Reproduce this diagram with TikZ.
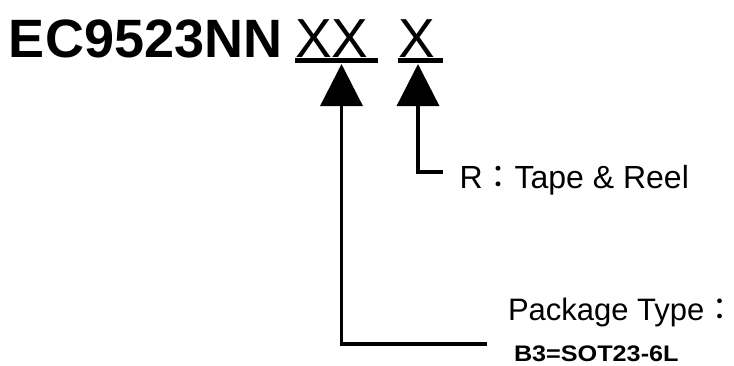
\documentclass[tikz,border=0pt]{standalone}
\usepackage{fontspec}
\setmainfont{Liberation Sans}
\newfontfamily\cjk{Noto Sans CJK JP}
\usetikzlibrary{arrows.meta}
\tikzset{
  lbl/.style={anchor=base west, inner sep=0pt, outer sep=0pt, text=black},
  conn/.style={line width=3.4pt, line join=miter, -{Triangle[length=42pt,width=42pt]}},
  uline/.style={line width=5pt}
}
\begin{document}
\begin{tikzpicture}[x=1pt,y=-1pt]
\useasboundingbox[fill=white] (0,0) rectangle (734,365);
\node[lbl, font=\fontsize{54}{54}\selectfont\bfseries] (title) at (9,57) {EC9523NN};
\node[lbl, font=\fontsize{55}{55}\selectfont] (xx) at (295,57) {XX};
\node[lbl, font=\fontsize{55}{55}\selectfont] (x2) at (398,57) {X};
\coordinate (u1a) at (295,60.5);
\coordinate (u1b) at (378,60.5);
\coordinate (u2a) at (398,60.5);
\coordinate (u2b) at (443,60.5);
\draw[uline] (u1a) -- (u1b);
\draw[uline] (u2a) -- (u2b);
\coordinate (t1) at (341.5,64);
\coordinate (c1) at (341.5,344);
\coordinate (e1) at (487,344);
\coordinate (t2) at (418,64);
\coordinate (c2) at (418,172);
\coordinate (e2) at (443,172);
\draw[conn] (e1) -- (c1) -- (t1);
\draw[conn] (e2) -- (c2) -- (t2);
\node[lbl, font=\fontsize{32}{32}\selectfont] (reel) at (459.5,188) {R{\cjk ：}Tape \& Reel};
\node[lbl, font=\fontsize{31}{31}\selectfont] (pkg) at (508,320) {Package Type{\cjk ：}};
\node[lbl, font=\fontsize{22.5}{22.5}\selectfont\bfseries] (b3) at (514,361) {\scalebox{1.12}[1]{B3=SOT23-6L}};
\end{tikzpicture}
\end{document}
